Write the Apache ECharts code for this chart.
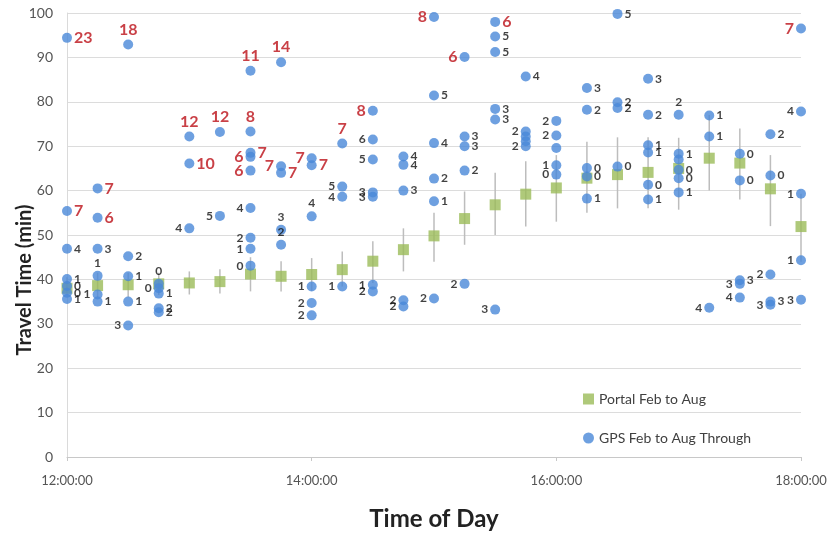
<!DOCTYPE html>
<html>
<head>
<meta charset="utf-8">
<script src="https://cdn.jsdelivr.net/npm/echarts@6.0.0/dist/echarts.min.js"></script>
<style>
  html, body { margin: 0; padding: 0; background: #fff; }
  #chart { width: 834px; height: 535px; }
</style>
</head>
<body>
<div id="chart"></div>
<script>
// portal averages, one per 15 minutes
var portalTimes = ["12:00","12:15","12:30","12:45","13:00","13:15","13:30","13:45","14:00","14:15","14:30","14:45",
  "15:00","15:15","15:30","15:45","16:00","16:15","16:30","16:45","17:00","17:15","17:30","17:45","18:00"];
var portalMean = [38.0,38.6,38.8,39.0,39.2,39.5,41.2,40.7,41.1,42.2,44.1,46.7,
  49.8,53.7,56.8,59.2,60.6,62.8,63.6,64.1,65.0,67.3,66.2,60.4,51.9];
var portalLow = [36.5,36.0,36.0,36.5,36.6,36.8,37.3,37.3,37.4,38.4,39.2,41.8,
  44.0,47.8,50.0,51.9,53.0,55.0,56.0,56.0,55.7,60.0,58.0,52.0,44.0];
var portalHigh = [40.5,41.5,41.5,41.5,41.8,42.3,45.0,44.1,44.8,46.3,48.6,51.5,
  55.0,59.8,64.0,66.6,68.0,71.0,72.0,72.0,71.9,77.0,74.0,68.0,59.3];

// gps runs: [time, travel minutes, trips, flagged]
var gpsPoints = [
  ["12:00",94.4,23,1],["12:00",55.4,7,1],["12:00",46.9,4,0],["12:00",40.1,1,0],["12:00",38.5,0,0],["12:00",37.0,0,0],["12:00",35.6,1,0],
  ["12:15",60.5,7,1],["12:15",53.9,6,1],["12:15",46.9,3,0],["12:15",40.8,1,0],["12:15",36.6,1,0],["12:15",35.0,1,0],
  ["12:30",92.9,18,1],["12:30",45.2,2,0],["12:30",40.7,1,0],["12:30",35.0,1,0],["12:30",29.6,3,0],
  ["12:45",39.0,0,0],["12:45",38.0,0,0],["12:45",36.8,1,0],["12:45",33.5,2,0],["12:45",32.6,2,0],
  ["13:00",72.2,12,1],["13:00",66.1,10,1],["13:00",51.5,4,0],
  ["13:15",73.2,12,1],["13:15",54.3,5,0],
  ["13:30",87.0,11,1],["13:30",73.3,8,1],["13:30",68.5,7,1],["13:30",67.6,6,1],["13:30",64.5,6,1],["13:30",56.1,4,0],["13:30",49.4,2,0],["13:30",46.9,1,0],["13:30",43.1,0,0],
  ["13:45",88.9,14,1],["13:45",65.5,7,1],["13:45",64.0,7,1],["13:45",51.2,3,0],["13:45",47.8,2,0],
  ["14:00",67.3,7,1],["14:00",65.7,7,1],["14:00",54.2,4,0],["14:00",38.4,1,0],["14:00",34.7,2,0],["14:00",31.9,2,0],
  ["14:15",70.6,7,1],["14:15",60.9,5,0],["14:15",58.6,4,0],["14:15",38.4,1,0],
  ["14:30",78.0,8,1],["14:30",71.5,6,0],["14:30",67.0,5,0],["14:30",59.6,3,0],["14:30",58.6,3,0],["14:30",38.8,1,0],["14:30",37.3,2,0],
  ["14:45",67.7,4,0],["14:45",65.8,4,0],["14:45",60.0,3,0],["14:45",35.3,2,0],["14:45",33.9,2,0],
  ["15:00",99.1,8,1],["15:00",81.4,5,0],["15:00",70.7,4,0],["15:00",62.7,2,0],["15:00",57.6,1,0],["15:00",35.7,2,0],
  ["15:15",90.1,6,1],["15:15",72.2,3,0],["15:15",70.0,3,0],["15:15",64.5,2,0],["15:15",39.0,2,0],
  ["15:30",98.0,6,1],["15:30",94.7,5,0],["15:30",91.2,5,0],["15:30",78.4,3,0],["15:30",76.0,3,0],["15:30",33.2,3,0],
  ["15:45",85.7,4,0],["15:45",73.3,2,0],["15:45",72.2,null,0],["15:45",71.1,null,0],["15:45",70.0,2,0],
  ["16:00",75.7,2,0],["16:00",72.4,2,0],["16:00",69.6,null,0],["16:00",65.7,1,0],["16:00",63.6,0,0],
  ["16:15",83.1,3,0],["16:15",78.2,2,0],["16:15",65.1,0,0],["16:15",63.2,0,0],["16:15",58.2,1,0],
  ["16:30",99.8,5,0],["16:30",79.9,2,0],["16:30",78.6,2,0],["16:30",65.4,0,0],
  ["16:45",85.2,3,0],["16:45",77.1,2,0],["16:45",70.2,1,0],["16:45",68.6,1,0],["16:45",61.3,0,0],["16:45",58.0,1,0],
  ["17:00",77.1,2,0],["17:00",68.3,1,0],["17:00",67.0,null,0],["17:00",64.7,0,0],["17:00",62.8,0,0],["17:00",59.6,1,0],
  ["17:15",76.9,1,0],["17:15",72.2,1,0],["17:15",33.6,4,0],
  ["17:30",68.3,0,0],["17:30",62.3,0,0],["17:30",39.8,3,0],["17:30",39.0,3,0],["17:30",35.9,4,0],
  ["17:45",72.7,2,0],["17:45",63.4,0,0],["17:45",41.1,2,0],["17:45",35.0,3,0],["17:45",34.3,3,0],
  ["18:00",96.5,7,1],["18:00",77.8,4,0],["18:00",59.3,1,0],["18:00",44.3,1,0],["18:00",35.4,3,0]
];

// where each trip-count label sits next to its dot (same order as gpsPoints)
var labelSides = [
  "r r br tr r r br", "tr r tr t l r", "t tr r br l", "t l r r br", "t r tl", "t tl",
  "t t tr l l l l l l", "t tl r t t", "tl r t l l l", "t l bl bl", "tl l l l bl tl l",
  "r br br tl l", "l r br br r l", "l r br r l", "tr r br r br l", "r l n n l", "l l n l l",
  "r r r r r", "br tr br tr", "r r r br r r", "t r n r r r", "br r l", "r br tr l l",
  "tr r tl tr bl", "l l bl tl tl"
].join(" ").split(" ");

function toHours(t) {
  var p = t.split(":");
  return +p[0] + p[1] / 60;
}

var sideMap = {
  r: { position: "right", offset: [0, 0] },
  l: { position: "left", offset: [0, 0] },
  t: { position: "top", offset: [0, 0] },
  tr: { position: "right", offset: [0, -7] },
  br: { position: "right", offset: [0, 7] },
  tl: { position: "left", offset: [0, -7] },
  bl: { position: "left", offset: [0, 7] }
};

var gpsData = gpsPoints.map(function (p, i) {
  var side = labelSides[i] || "r";
  var item = { value: [toHours(p[0]), p[1], p[2]] };
  if (p[2] === null || side === "n") {
    item.label = { show: false };
  } else {
    var s = sideMap[side];
    item.label = {
      show: true,
      position: s.position,
      offset: s.offset,
      distance: 2,
      color: p[3] ? "#bb1018" : "#111",
      fontSize: p[3] ? 16 : 12,
      fontWeight: "bold"
    };
  }
  return item;
});

var portalData = portalTimes.map(function (t, i) {
  return [toHours(t), portalMean[i]];
});
var barData = portalTimes.map(function (t, i) {
  return [toHours(t), portalLow[i], portalHigh[i]];
});

var myChart = echarts.init(document.getElementById("chart"));
var option = {
  animation: false,
  textStyle: { fontFamily: "Lato" },
  grid: { left: 67, right: 33, top: 13, bottom: 78, outerBoundsMode: "none" },
  graphic: [
    {
      // y axis title, sits a little below the plot centre as in the original
      type: "text",
      x: 25,
      y: 280,
      rotation: Math.PI / 2,
      style: {
        text: "Travel Time (min)",
        fontSize: 20,
        fontWeight: "bold",
        fontFamily: "Lato",
        fill: "#222",
        align: "center",
        verticalAlign: "middle"
      }
    }
  ],
  legend: {
    orient: "vertical",
    left: 578,
    top: 387,
    itemGap: 25,
    itemWidth: 11,
    itemHeight: 11,
    textStyle: { fontSize: 14, color: "#404040", fontFamily: "Lato" },
    data: [
      { name: "Portal Feb to Aug", icon: "rect" },
      { name: "GPS Feb to Aug Through", icon: "circle" }
    ]
  },
  xAxis: {
    type: "value",
    min: 12,
    max: 18,
    interval: 2,
    name: "Time of Day",
    nameLocation: "middle",
    nameGap: 50,
    nameTextStyle: { fontSize: 24, fontWeight: "bold", color: "#222", fontFamily: "Lato" },
    axisLine: { show: true, lineStyle: { color: "#c8c8c8" } },
    axisTick: { show: true, length: 4, lineStyle: { color: "#c8c8c8" } },
    axisLabel: {
      color: "#555",
      fontSize: 13,
      margin: 17,
      formatter: function (v) { return Math.round(v) + ":00:00"; }
    },
    splitLine: { show: false }
  },
  yAxis: {
    type: "value",
    min: 0,
    max: 100,
    interval: 10,
    axisLine: { show: true, lineStyle: { color: "#dadada" } },
    axisTick: { show: false },
    axisLabel: { color: "#555", fontSize: 14, margin: 14 },
    splitLine: { show: true, lineStyle: { color: "#dcdcdc" } }
  },
  series: [
    {
      // error bars round the portal averages
      type: "custom",
      name: "portalRange",
      silent: true,
      z: 1,
      renderItem: function (params, api) {
        var a = api.coord([api.value(0), api.value(1)]);
        var b = api.coord([api.value(0), api.value(2)]);
        return {
          type: "line",
          shape: { x1: a[0], y1: a[1], x2: b[0], y2: b[1] },
          style: { stroke: "#bdbdbd", lineWidth: 1.5 }
        };
      },
      data: barData
    },
    {
      name: "Portal Feb to Aug",
      type: "scatter",
      symbol: "rect",
      symbolSize: 11,
      z: 2,
      itemStyle: { color: "#9bbb59" },
      data: portalData
    },
    {
      name: "GPS Feb to Aug Through",
      type: "scatter",
      symbol: "circle",
      symbolSize: 10,
      z: 3,
      itemStyle: { color: "#4a88d8" },
      label: {
        formatter: function (p) { return p.value[2]; }
      },
      labelLayout: { hideOverlap: false },
      data: gpsData
    }
  ]
};
myChart.setOption(option);
</script>
</body>
</html>
